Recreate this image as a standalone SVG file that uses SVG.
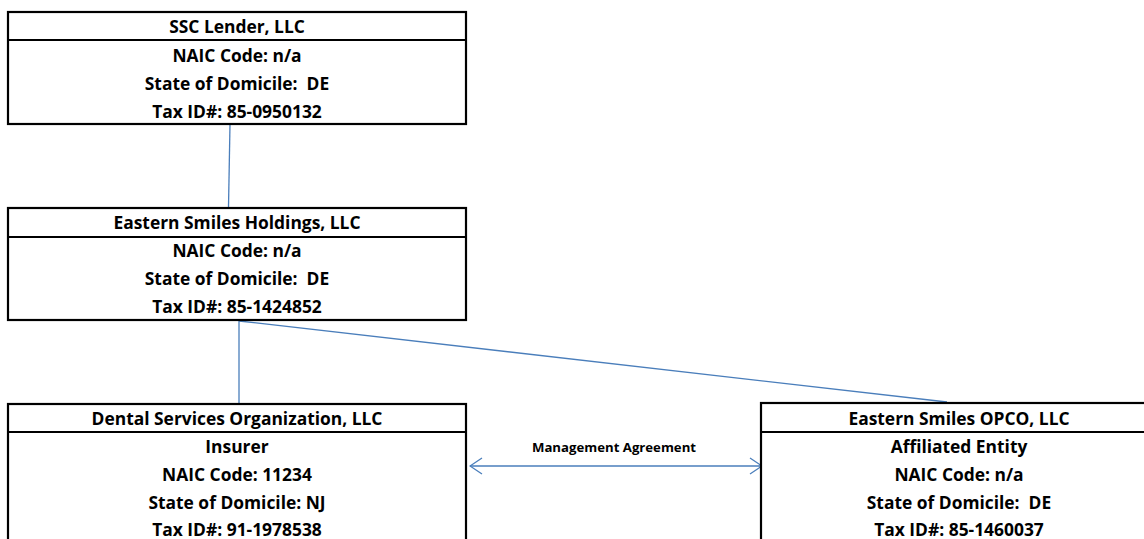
<svg xmlns="http://www.w3.org/2000/svg" width="1144" height="539" viewBox="0 0 1144 539">
<style>
.box{fill:#fff;stroke:#000;stroke-width:2.2}
.sep{stroke:#000;stroke-width:2.2}
.t{font-family:"Open Sans","Liberation Sans",sans-serif;font-weight:bold;font-size:17.4px;fill:#000;text-anchor:middle;white-space:pre}
.lbl{font-family:"Open Sans","Liberation Sans",sans-serif;font-weight:bold;font-size:13.2px;fill:#000;text-anchor:middle}
.c{stroke:#4a7ebb;stroke-width:1.3;fill:none}
</style>
<defs>
<marker id="ah" viewBox="0 0 14 18" refX="13" refY="9" markerWidth="14" markerHeight="18" markerUnits="userSpaceOnUse" orient="auto-start-reverse">
<path d="M1,1 L13,9 L1,17" fill="none" stroke="#4a7ebb" stroke-width="1.3"/>
</marker>
</defs>
<g id="connectors">
<line class="c" x1="230" y1="124" x2="228.5" y2="207"/>
<line class="c" x1="239" y1="321" x2="239" y2="404"/>
<line class="c" x1="239" y1="321" x2="947" y2="402"/>
<line class="c" x1="470" y1="466" x2="762" y2="466" marker-start="url(#ah)" marker-end="url(#ah)"/>
<text class="lbl" x="614" y="452">Management Agreement</text>
</g>
<g id="ssc-lender">
<rect class="box" x="8" y="12" width="458" height="112"/>
<line class="sep" x1="8" y1="40" x2="466" y2="40"/>
<text class="t" x="237" y="33">SSC Lender, LLC</text>
<text class="t" x="237" y="62">NAIC Code: n/a</text>
<text class="t" x="237" y="90" xml:space="preserve">State of Domicile:  DE</text>
<text class="t" x="237" y="118">Tax ID#: 85-0950132</text>
</g>
<g id="eastern-smiles-holdings">
<rect class="box" x="8" y="208" width="458" height="112"/>
<line class="sep" x1="8" y1="237" x2="466" y2="237"/>
<text class="t" x="237" y="229">Eastern Smiles Holdings, LLC</text>
<text class="t" x="237" y="257">NAIC Code: n/a</text>
<text class="t" x="237" y="285" xml:space="preserve">State of Domicile:  DE</text>
<text class="t" x="237" y="313">Tax ID#: 85-1424852</text>
</g>
<g id="dental-services">
<rect class="box" x="8" y="404" width="458" height="150"/>
<line class="sep" x1="8" y1="432" x2="466" y2="432"/>
<text class="t" x="237" y="425">Dental Services Organization, LLC</text>
<text class="t" x="237" y="453">Insurer</text>
<text class="t" x="237" y="481">NAIC Code: 11234</text>
<text class="t" x="237" y="509">State of Domicile: NJ</text>
<text class="t" x="237" y="536">Tax ID#: 91-1978538</text>
</g>
<g id="eastern-smiles-opco">
<rect class="box" x="761" y="403" width="396" height="150"/>
<line class="sep" x1="761" y1="432" x2="1157" y2="432"/>
<text class="t" x="959" y="425">Eastern Smiles OPCO, LLC</text>
<text class="t" x="959" y="453">Affiliated Entity</text>
<text class="t" x="959" y="481">NAIC Code: n/a</text>
<text class="t" x="959" y="509" xml:space="preserve">State of Domicile:  DE</text>
<text class="t" x="959" y="536">Tax ID#: 85-1460037</text>
</g>
</svg>
